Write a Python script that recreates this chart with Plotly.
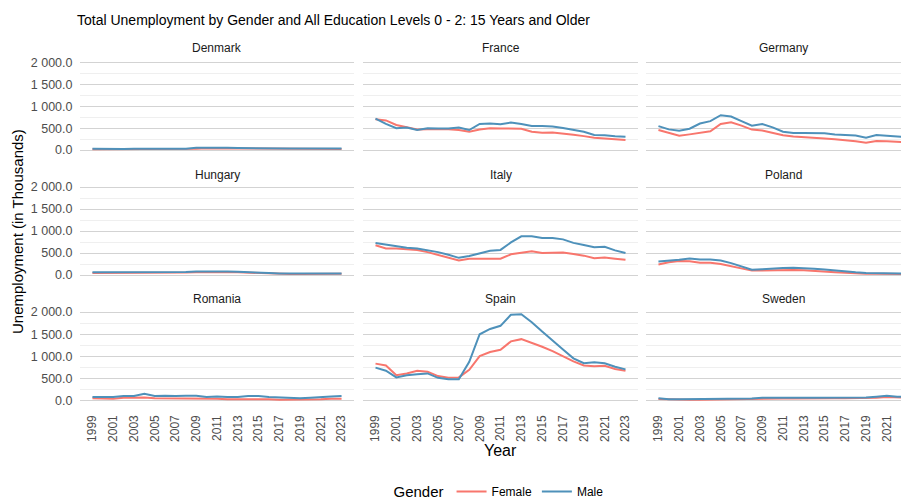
import plotly.graph_objects as go

years = list(range(1999, 2024))
countries = ["Denmark", "France", "Germany", "Hungary", "Italy", "Poland",
             "Romania", "Spain", "Sweden"]

denmark_f = [20, 20, 20, 20, 25, 25, 25, 20, 20, 20, 30, 40, 40, 35, 35, 30, 30, 30, 25, 25, 25, 30, 25, 25, 25]
denmark_m = [30, 25, 25, 25, 30, 30, 30, 25, 25, 30, 50, 55, 55, 50, 45, 40, 40, 40, 35, 35, 35, 40, 35, 35, 35]

france_f = [710, 680, 575, 530, 470, 480, 480, 475, 460, 420, 470, 500, 495, 495, 490, 420, 400, 405, 385, 350, 320, 280, 265, 240, 230]
france_m = [720, 600, 500, 520, 460, 500, 495, 495, 520, 460, 600, 610, 590, 630, 600, 550, 550, 540, 505, 460, 420, 345, 340, 315, 305]

germany_f = [460, 390, 330, 360, 400, 430, 600, 640, 560, 470, 450, 400, 340, 310, 290, 275, 265, 250, 230, 200, 170, 210, 200, 195, 180]
germany_m = [550, 475, 445, 490, 610, 665, 800, 770, 665, 560, 600, 520, 420, 390, 390, 390, 385, 360, 350, 335, 285, 345, 330, 305, 290]

hungary_f = [45, 45, 40, 40, 40, 40, 45, 45, 50, 55, 65, 70, 70, 65, 60, 50, 40, 35, 30, 25, 25, 30, 30, 30, 30]
hungary_m = [60, 60, 55, 55, 55, 55, 60, 60, 65, 70, 80, 85, 85, 80, 75, 60, 50, 45, 35, 30, 30, 35, 35, 35, 35]

italy_f = [675, 605, 600, 590, 570, 520, 460, 400, 330, 370, 370, 370, 370, 470, 510, 540, 500, 510, 510, 480, 440, 380, 400, 370, 345]
italy_m = [730, 690, 650, 620, 600, 560, 520, 460, 390, 430, 490, 550, 570, 740, 880, 880, 840, 840, 810, 730, 680, 630, 640, 560, 500]

poland_f = [240, 290, 320, 310, 280, 280, 250, 200, 150, 100, 100, 110, 115, 115, 110, 100, 80, 65, 50, 35, 30, 30, 25, 25, 20]
poland_m = [305, 320, 345, 375, 350, 355, 330, 270, 190, 120, 130, 150, 160, 165, 160, 145, 125, 100, 80, 60, 45, 45, 40, 35, 30]

romania_f = [60, 60, 50, 70, 70, 80, 60, 60, 60, 50, 50, 50, 50, 40, 40, 50, 50, 40, 30, 30, 30, 30, 40, 50, 50]
romania_m = [90, 90, 90, 110, 110, 160, 110, 120, 110, 120, 120, 90, 100, 90, 90, 110, 110, 90, 80, 70, 60, 70, 90, 100, 110]

spain_f = [840, 800, 580, 620, 680, 660, 560, 520, 530, 700, 1010, 1100, 1150, 1340, 1390, 1310, 1220, 1120, 1000, 890, 800, 780, 790, 720, 680]
spain_m = [750, 680, 530, 580, 600, 620, 520, 490, 490, 880, 1500, 1620, 1690, 1940, 1950, 1770, 1560, 1350, 1160, 960, 850, 870, 850, 770, 710]

sweden_f = [45, 35, 30, 30, 30, 35, 40, 40, 40, 45, 55, 60, 55, 55, 60, 60, 60, 60, 60, 60, 65, 75, 90, 75, 75]
sweden_m = [60, 40, 40, 40, 40, 40, 45, 45, 45, 55, 70, 75, 70, 70, 75, 70, 70, 70, 70, 75, 80, 95, 115, 95, 95]

female = [denmark_f, france_f, germany_f, hungary_f, italy_f, poland_f, romania_f, spain_f, sweden_f]
male = [denmark_m, france_m, germany_m, hungary_m, italy_m, poland_m, romania_m, spain_m, sweden_m]

y_ticks = [0, 500, 1000, 1500, 2000]
x_ticks = list(range(1999, 2024, 2))

FEMALE_COLOR = "#F8766D"
MALE_COLOR = "#4E91BA"
W, H = 909, 500
OFF = 8  # page body margin


def fx(px):
    return (px - OFF) / W


def fy(py):
    return 1 - (py - OFF) / H


# page-pixel geometry of panels
col_px = [(80, 354), (363, 638), (646, 920)]
row_px = [(60.5, 153.4), (184.5, 278.4), (309.5, 404.4)]
full_range = [1997.8, 2024.2]
strip_y = [48, 175, 299]

fig = go.Figure()
layout = {}
annotations = []

for i, country in enumerate(countries):
    r, c = divmod(i, 3)
    idx = i + 1
    xa = "x" if idx == 1 else f"x{idx}"
    ya = "y" if idx == 1 else f"y{idx}"
    fig.add_trace(go.Scatter(x=years, y=female[i], mode="lines", name="Female",
                             line=dict(color=FEMALE_COLOR, width=2),
                             legendgroup="Female", showlegend=(i == 0),
                             xaxis=xa, yaxis=ya))
    fig.add_trace(go.Scatter(x=years, y=male[i], mode="lines", name="Male",
                             line=dict(color=MALE_COLOR, width=2),
                             legendgroup="Male", showlegend=(i == 0),
                             xaxis=xa, yaxis=ya))
    x0, x1 = col_px[c]
    y0, y1 = row_px[r]
    d0, d1 = fx(x0), fx(x1)
    xr = list(full_range)
    if d1 > 1.0:
        frac = (1.0 - d0) / (d1 - d0)
        xr = [full_range[0], full_range[0] + (full_range[1] - full_range[0]) * frac]
        d1 = 1.0
    xkey = "xaxis" if idx == 1 else f"xaxis{idx}"
    ykey = "yaxis" if idx == 1 else f"yaxis{idx}"
    layout[xkey] = dict(
        domain=[d0, d1], range=xr, anchor=ya,
        automargin=False,
        showgrid=False, zeroline=False, showline=False,
        tickmode="array", tickvals=x_ticks, ticktext=[str(t) for t in x_ticks],
        showticklabels=(r == 2), tickangle=-90,
        ticks="outside" if r == 2 else "", ticklen=5, tickcolor="rgba(0,0,0,0)",
        tickfont=dict(size=12, color="#4D4D4D"),
    )
    layout[ykey] = dict(
        domain=[fy(y1), fy(y0)], range=[-77, 2057], anchor=xa,
        automargin=False,
        showgrid=True, gridcolor="#D3D3D3", gridwidth=1,
        minor=dict(tickvals=[250, 750, 1250, 1750], showgrid=True,
                   gridcolor="#EFEFEF", gridwidth=0.8),
        zeroline=False, showline=False,
        tickmode="array", tickvals=y_ticks, tickformat=",.1f",
        showticklabels=(c == 0),
        ticks="outside" if c == 0 else "", ticklen=4, tickcolor="rgba(0,0,0,0)",
        tickfont=dict(size=12.5, color="#4D4D4D"),
    )
    annotations.append(dict(text=country, x=fx((x0 + x1) / 2), y=fy(strip_y[r]),
                            xref="paper", yref="paper",
                            showarrow=False, xanchor="center", yanchor="middle",
                            font=dict(size=12, color="#1A1A1A")))

annotations.append(dict(text="Year", x=fx(500), y=fy(450), xref="paper", yref="paper",
                        showarrow=False, xanchor="center", yanchor="middle",
                        font=dict(size=16, color="#000000")))
annotations.append(dict(text="Unemployment (in Thousands)", x=fx(18), y=fy(232),
                        xref="paper", yref="paper", showarrow=False, textangle=-90,
                        xanchor="center", yanchor="middle",
                        font=dict(size=15, color="#000000")))

fig.update_layout(
    **layout,
    width=W, height=H,
    margin=dict(l=0, r=0, t=0, b=0, autoexpand=False),
    paper_bgcolor="white", plot_bgcolor="white",
    separators=". ",
    font=dict(family="Liberation Sans, Arial, sans-serif"),
    title=dict(text="Total Unemployment by Gender and All Education Levels 0 - 2: 15 Years and Older",
               x=fx(77), xanchor="left", y=fy(20), yanchor="middle",
               automargin=False,
               font=dict(size=14, color="#000000")),
    annotations=annotations,
    legend=dict(orientation="h", x=fx(500), xanchor="center", y=fy(492), yanchor="middle",
                title=dict(text="Gender", font=dict(size=15, color="#000000")),
                font=dict(size=12, color="#000000"), itemwidth=30,
                bgcolor="rgba(0,0,0,0)"),
    showlegend=True,
)

fig.write_html("out.html")
